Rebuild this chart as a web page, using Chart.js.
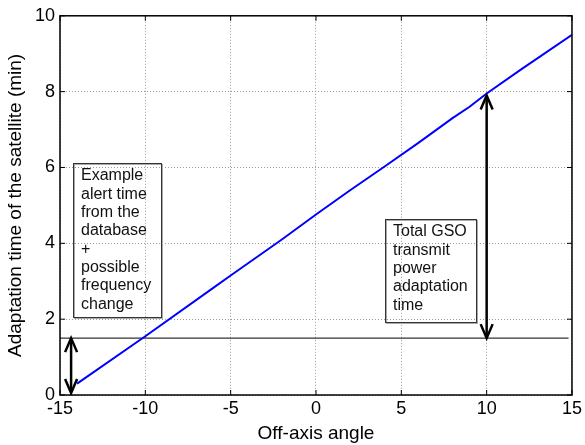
<!DOCTYPE html>
<html>
<head>
<meta charset="utf-8">
<script src="https://cdn.jsdelivr.net/npm/chart.js@4"></script>
<style>
  html, body { margin: 0; padding: 0; background: #fff; }
  #wrap { width: 585px; height: 445px; }
</style>
</head>
<body>
<div id="wrap"><canvas id="chart" width="585" height="445"></canvas></div>
<script>
// values
const angles = [-14, -10, -6, -5, -2, 0, 2, 4, 6, 8, 9, 10, 12, 15];
const adaptTimes = [0.3, 1.55, 2.83, 3.15, 4.1, 4.76, 5.4, 6.02, 6.65, 7.3, 7.6, 7.95, 8.58, 9.5];
const xTicks = [-15, -10, -5, 0, 5, 10, 15];
const yTicks = [0, 2, 4, 6, 8, 10];
const thresholdLevel = 1.5;
const leftArrowX = -14.35;
const rightArrowX = 10;
const rightArrowTop = 7.9;
const leftNote = ['Example', 'alert time', 'from the', 'database', '+', 'possible', 'frequency', 'change'];
const rightNote = ['Total GSO', 'transmit', 'power', 'adaptation', 'time'];
// note boxes given in data units [xmin, xmax, ymax, ymin]
const leftBox = [-14.24, -9.1, 6.12, 2.07];
const rightBox = [4.03, 9.4, 4.65, 1.92];

const FONT = '"Liberation Sans", Arial, sans-serif';

function arrowHead(ctx, x, y, dir) {
  // dir = -1 pointing up, 1 pointing down
  ctx.beginPath();
  ctx.moveTo(x - 6, y - dir * 14);
  ctx.lineTo(x, y);
  ctx.lineTo(x + 6, y - dir * 14);
  ctx.stroke();
}

const extras = {
  id: 'extras',
  afterDatasetsDraw(chart) {
    const { ctx, chartArea: a, scales: { x, y } } = chart;
    ctx.save();
    // frame
    ctx.strokeStyle = '#000';
    ctx.lineWidth = 1.5;
    ctx.strokeRect(a.left, a.top, a.right - a.left, a.bottom - a.top);
    // inward ticks
    ctx.lineWidth = 1;
    xTicks.forEach(v => {
      const px = x.getPixelForValue(v);
      ctx.beginPath();
      ctx.moveTo(px, a.bottom); ctx.lineTo(px, a.bottom - 5);
      ctx.moveTo(px, a.top); ctx.lineTo(px, a.top + 5);
      ctx.stroke();
    });
    yTicks.forEach(v => {
      const py = y.getPixelForValue(v);
      ctx.beginPath();
      ctx.moveTo(a.left, py); ctx.lineTo(a.left + 5, py);
      ctx.moveTo(a.right, py); ctx.lineTo(a.right - 5, py);
      ctx.stroke();
    });

    // arrows
    ctx.strokeStyle = '#000';
    ctx.lineWidth = 2.5;
    ctx.lineJoin = 'miter';
    const drawArrow = (xv, y1, y2) => {
      const px = x.getPixelForValue(xv);
      const top = y.getPixelForValue(y1);
      const bot = y.getPixelForValue(y2);
      ctx.beginPath();
      ctx.moveTo(px, top + 1); ctx.lineTo(px, bot - 1);
      ctx.stroke();
      arrowHead(ctx, px, top, -1);
      arrowHead(ctx, px, bot, 1);
    };
    drawArrow(leftArrowX, thresholdLevel, 0.05);
    drawArrow(rightArrowX, rightArrowTop, thresholdLevel);

    // note boxes (transparent, grid shows through)
    const drawNote = (box, lines) => {
      const l = Math.round(x.getPixelForValue(box[0]));
      const r = Math.round(x.getPixelForValue(box[1]));
      const t = Math.round(y.getPixelForValue(box[2]));
      const b = Math.round(y.getPixelForValue(box[3]));
      ctx.lineWidth = 1;
      ctx.strokeStyle = '#aaa';
      ctx.strokeRect(l + 1.5, t + 1.5, r - l, b - t);
      ctx.strokeStyle = '#333';
      ctx.strokeRect(l + 0.5, t + 0.5, r - l, b - t);
      ctx.fillStyle = '#111';
      ctx.font = '16px ' + FONT;
      ctx.textBaseline = 'middle';
      ctx.textAlign = 'left';
      lines.forEach((s, i) => ctx.fillText(s, l + 8, t + 13 + i * 18.3));
    };
    drawNote(leftBox, leftNote);
    drawNote(rightBox, rightNote);
    ctx.restore();
  }
};

new Chart(document.getElementById('chart'), {
  type: 'scatter',
  data: {
    datasets: [
      {
        data: angles.map((a, i) => ({ x: a, y: adaptTimes[i] })),
        showLine: true,
        borderColor: '#0000ff',
        borderWidth: 2,
        pointRadius: 0,
        tension: 0,
        order: 1
      },
      {
        data: [{ x: -15, y: thresholdLevel }, { x: 14.8, y: thresholdLevel }],
        showLine: true,
        borderColor: '#000',
        borderWidth: 1,
        pointRadius: 0,
        order: 2
      }
    ]
  },
  options: {
    responsive: false,
    animation: false,
    layout: { padding: { top: 14, right: 11, left: 0, bottom: 0 } },
    plugins: { legend: { display: false }, tooltip: { enabled: false } },
    scales: {
      x: {
        type: 'linear',
        min: -15, max: 15,
        afterBuildTicks: s => { s.ticks = xTicks.map(v => ({ value: v })); },
        afterFit: s => { s.height = 50; },
        grid: { color: '#999', lineWidth: 1, drawTicks: false },
        border: { display: false, dash: [1, 2] },
        ticks: { color: '#000', font: { family: FONT, size: 18 }, padding: 3, maxRotation: 0 },
        title: { display: true, text: 'Off-axis angle', color: '#000', font: { family: FONT, size: 19 }, padding: { top: 0, bottom: 0 } }
      },
      y: {
        min: 0, max: 10,
        afterBuildTicks: s => { s.ticks = yTicks.map(v => ({ value: v })); },
        afterFit: s => { s.width = 60; },
        grid: { color: '#999', lineWidth: 1, drawTicks: false },
        border: { display: false, dash: [1, 2] },
        ticks: { color: '#000', font: { family: FONT, size: 18 }, padding: 5 },
        title: { display: true, text: 'Adaptation time of the satellite (min)', color: '#000', font: { family: FONT, size: 19 }, padding: { top: 4, bottom: 0 } }
      }
    }
  },
  plugins: [extras]
});
</script>
</body>
</html>
